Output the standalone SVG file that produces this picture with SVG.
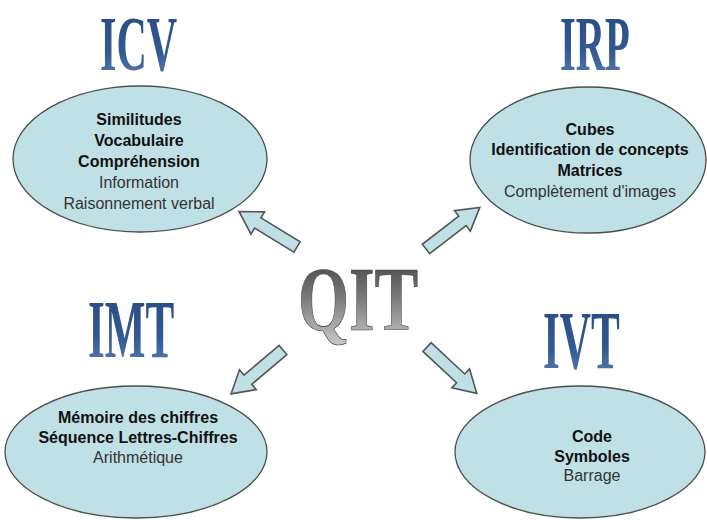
<svg xmlns="http://www.w3.org/2000/svg" width="707" height="520" viewBox="0 0 707 520">
<style>
.ell{fill:#bfe0e5;stroke:#4d4d4d;stroke-width:1.3}
.arr{fill:#bfe0e5;stroke:#555;stroke-width:1.6;stroke-linejoin:miter}
.b{font-family:"Liberation Sans",Arial,sans-serif;font-weight:bold;font-size:16px;fill:#111;text-anchor:middle}
.r{font-family:"Liberation Sans",Arial,sans-serif;font-size:16px;fill:#333;text-anchor:middle}
.ttl{font-family:"Liberation Serif","Times New Roman",serif;font-weight:bold;font-size:83px;fill:url(#blue)}
.ttl2{font-family:"Liberation Serif","Times New Roman",serif;font-weight:bold;font-size:78px;fill:url(#blue)}
.qit{font-family:"Liberation Serif","Times New Roman",serif;font-weight:bold;font-size:91px;fill:url(#grey);stroke:#444;stroke-width:0.7}
</style>
<defs>
<linearGradient id="blue" x1="0" y1="0" x2="0" y2="1">
<stop offset="0" stop-color="#26477d"/>
<stop offset="0.6" stop-color="#345a93"/>
<stop offset="1" stop-color="#6385b6"/>
</linearGradient>
<linearGradient id="grey" x1="0" y1="0" x2="0" y2="1">
<stop offset="0" stop-color="#3a3a3a"/>
<stop offset="0.5" stop-color="#7c7c7c"/>
<stop offset="1" stop-color="#d0d0d0"/>
</linearGradient>
<path id="arrow" d="M0,-6 L46,-6 L46,-13 L68,0 L46,13 L46,6 L0,6 Z"/>
</defs>
<rect width="707" height="520" fill="#fff"/>

<g id="connectors">
<use href="#arrow" class="arr" transform="translate(297,247) rotate(211.5)"/>
<use href="#arrow" class="arr" transform="translate(426,249) rotate(-37.7)"/>
<use href="#arrow" class="arr" transform="translate(283,350) rotate(139.8)"/>
<use href="#arrow" class="arr" transform="translate(427,347) rotate(43)"/>
</g>

<g id="qit">
<text class="qit" transform="translate(298,330) scale(0.72,1)">QIT</text>
</g>

<g id="icv">
<text class="ttl2" transform="translate(100,70) scale(0.54,1)">ICV</text>
<ellipse class="ell" cx="140" cy="159" rx="127" ry="73"/>
<text class="b" x="139" y="125">Similitudes</text>
<text class="b" x="139" y="146">Vocabulaire</text>
<text class="b" x="139" y="167">Compréhension</text>
<text class="r" x="139" y="188">Information</text>
<text class="r" x="139" y="209">Raisonnement verbal</text>
</g>

<g id="irp">
<text class="ttl2" transform="translate(560,70) scale(0.52,1)">IRP</text>
<ellipse class="ell" cx="588" cy="160" rx="118" ry="73"/>
<text class="b" x="590" y="135">Cubes</text>
<text class="b" x="590" y="155">Identification de concepts</text>
<text class="b" x="590" y="176">Matrices</text>
<text class="r" x="590" y="197">Complètement d'images</text>
</g>

<g id="imt">
<text class="ttl" transform="translate(88,357) scale(0.52,1)">IMT</text>
<ellipse class="ell" cx="136" cy="452" rx="131" ry="66"/>
<text class="b" x="138" y="423">Mémoire des chiffres</text>
<text class="b" x="138" y="443">Séquence Lettres-Chiffres</text>
<text class="r" x="138" y="463">Arithmétique</text>
</g>

<g id="ivt">
<text class="ttl" transform="translate(543,368) scale(0.52,1)">IVT</text>
<ellipse class="ell" cx="580" cy="452" rx="125" ry="66"/>
<text class="b" x="592" y="442">Code</text>
<text class="b" x="592" y="462">Symboles</text>
<text class="r" x="592" y="481">Barrage</text>
</g>
</svg>
